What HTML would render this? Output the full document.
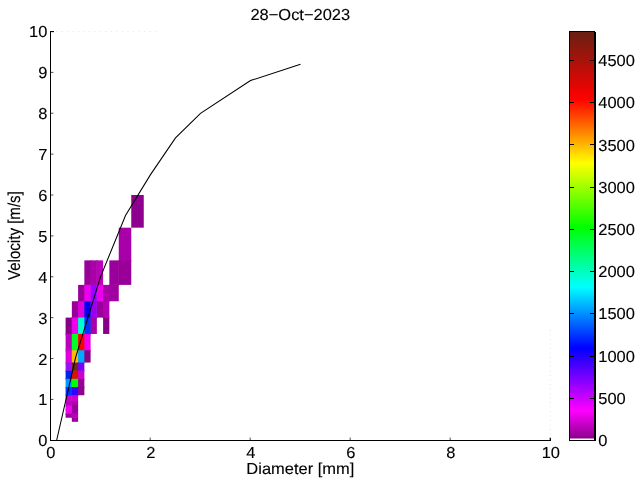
<!DOCTYPE html>
<html><head><meta charset="utf-8"><title>28-Oct-2023</title>
<style>html,body{margin:0;padding:0;background:#fff}svg{display:block}text{text-rendering:geometricPrecision;font-family:"Liberation Sans",sans-serif;font-size:15.9px;fill:#000;stroke:#000;stroke-width:0.12px}</style></head><body>
<svg width="640" height="480" viewBox="0 0 640 480">
<defs><linearGradient id="cm" gradientUnits="userSpaceOnUse" x1="0" y1="438.5" x2="0" y2="31.5">
<stop offset="0.0000" stop-color="#8b008b"/>
<stop offset="0.0688" stop-color="#ff00ff"/>
<stop offset="0.2224" stop-color="#0000ff"/>
<stop offset="0.3722" stop-color="#00ffff"/>
<stop offset="0.5197" stop-color="#00ff00"/>
<stop offset="0.6769" stop-color="#ffff00"/>
<stop offset="0.8342" stop-color="#ff0000"/>
<stop offset="1.0000" stop-color="#672012"/>
</linearGradient></defs>
<rect width="640" height="480" fill="#fff"/>
<g><rect x="131.25" y="194.98" width="12.50" height="32.70" fill="#8e008e"/><rect x="118.75" y="227.68" width="12.50" height="32.70" fill="#a800a8"/><rect x="118.75" y="259.87" width="12.50" height="1.5" fill="#a800a8"/><rect x="84.35" y="260.37" width="6.25" height="24.52" fill="#990099"/><rect x="90.10" y="260.37" width="1.5" height="24.52" fill="#990099"/><rect x="84.35" y="284.39" width="6.25" height="1.5" fill="#990099"/><rect x="90.60" y="260.37" width="6.25" height="24.52" fill="#aa00aa"/><rect x="96.35" y="260.37" width="1.5" height="24.52" fill="#aa00aa"/><rect x="90.60" y="284.39" width="6.25" height="1.5" fill="#aa00aa"/><rect x="96.85" y="260.37" width="6.25" height="24.52" fill="#bb00bb"/><rect x="96.85" y="284.39" width="6.25" height="1.5" fill="#bb00bb"/><rect x="109.35" y="260.37" width="9.40" height="24.52" fill="#990099"/><rect x="118.25" y="260.37" width="1.5" height="24.52" fill="#990099"/><rect x="109.35" y="284.39" width="9.40" height="1.5" fill="#990099"/><rect x="118.75" y="260.37" width="12.50" height="24.52" fill="#990099"/><rect x="78.10" y="284.89" width="6.25" height="16.35" fill="#990099"/><rect x="83.85" y="284.89" width="1.5" height="16.35" fill="#990099"/><rect x="78.10" y="300.74" width="6.25" height="1.5" fill="#990099"/><rect x="84.35" y="284.89" width="6.25" height="16.35" fill="#ee00ee"/><rect x="90.10" y="284.89" width="1.5" height="16.35" fill="#ee00ee"/><rect x="84.35" y="300.74" width="6.25" height="1.5" fill="#ee00ee"/><rect x="90.60" y="284.89" width="6.25" height="16.35" fill="#9900ff"/><rect x="96.35" y="284.89" width="1.5" height="16.35" fill="#9900ff"/><rect x="90.60" y="300.74" width="6.25" height="1.5" fill="#9900ff"/><rect x="96.85" y="284.89" width="6.25" height="16.35" fill="#ee00ee"/><rect x="102.60" y="284.89" width="1.5" height="16.35" fill="#ee00ee"/><rect x="96.85" y="300.74" width="6.25" height="1.5" fill="#ee00ee"/><rect x="103.10" y="284.89" width="6.25" height="16.35" fill="#aa00aa"/><rect x="108.85" y="284.89" width="1.5" height="16.35" fill="#aa00aa"/><rect x="103.10" y="300.74" width="6.25" height="1.5" fill="#aa00aa"/><rect x="109.35" y="284.89" width="9.40" height="16.35" fill="#a000a0"/><rect x="71.85" y="301.24" width="6.25" height="16.35" fill="#990099"/><rect x="77.60" y="301.24" width="1.5" height="16.35" fill="#990099"/><rect x="71.85" y="317.09" width="6.25" height="1.5" fill="#990099"/><rect x="78.10" y="301.24" width="6.25" height="16.35" fill="#dd00dd"/><rect x="83.85" y="301.24" width="1.5" height="16.35" fill="#dd00dd"/><rect x="78.10" y="317.09" width="6.25" height="1.5" fill="#dd00dd"/><rect x="84.35" y="301.24" width="6.25" height="16.35" fill="#0000ee"/><rect x="90.10" y="301.24" width="1.5" height="16.35" fill="#0000ee"/><rect x="84.35" y="317.09" width="6.25" height="1.5" fill="#0000ee"/><rect x="90.60" y="301.24" width="6.25" height="16.35" fill="#9900ee"/><rect x="96.35" y="301.24" width="1.5" height="16.35" fill="#9900ee"/><rect x="90.60" y="317.09" width="6.25" height="1.5" fill="#9900ee"/><rect x="96.85" y="301.24" width="6.25" height="16.35" fill="#9c009c"/><rect x="102.60" y="301.24" width="1.5" height="16.35" fill="#9c009c"/><rect x="103.10" y="301.24" width="6.25" height="16.35" fill="#b400b4"/><rect x="103.10" y="317.09" width="6.25" height="1.5" fill="#b400b4"/><rect x="65.60" y="317.59" width="6.25" height="16.35" fill="#880088"/><rect x="71.35" y="317.59" width="1.5" height="16.35" fill="#880088"/><rect x="65.60" y="333.44" width="6.25" height="1.5" fill="#880088"/><rect x="71.85" y="317.59" width="6.25" height="16.35" fill="#ee00ee"/><rect x="77.60" y="317.59" width="1.5" height="16.35" fill="#ee00ee"/><rect x="71.85" y="333.44" width="6.25" height="1.5" fill="#ee00ee"/><rect x="78.10" y="317.59" width="6.25" height="16.35" fill="#00ffcc"/><rect x="83.85" y="317.59" width="1.5" height="16.35" fill="#00ffcc"/><rect x="78.10" y="333.44" width="6.25" height="1.5" fill="#00ffcc"/><rect x="84.35" y="317.59" width="6.25" height="16.35" fill="#0033ff"/><rect x="90.10" y="317.59" width="1.5" height="16.35" fill="#0033ff"/><rect x="84.35" y="333.44" width="6.25" height="1.5" fill="#0033ff"/><rect x="90.60" y="317.59" width="6.25" height="16.35" fill="#aa00aa"/><rect x="103.10" y="317.59" width="6.25" height="16.35" fill="#880088"/><rect x="65.60" y="333.94" width="6.25" height="16.35" fill="#bb00bb"/><rect x="71.35" y="333.94" width="1.5" height="16.35" fill="#bb00bb"/><rect x="65.60" y="349.79" width="6.25" height="1.5" fill="#bb00bb"/><rect x="71.85" y="333.94" width="6.25" height="16.35" fill="#00ff22"/><rect x="77.60" y="333.94" width="1.5" height="16.35" fill="#00ff22"/><rect x="71.85" y="349.79" width="6.25" height="1.5" fill="#00ff22"/><rect x="78.10" y="333.94" width="6.25" height="16.35" fill="#ff0000"/><rect x="83.85" y="333.94" width="1.5" height="16.35" fill="#ff0000"/><rect x="78.10" y="349.79" width="6.25" height="1.5" fill="#ff0000"/><rect x="84.35" y="333.94" width="6.25" height="16.35" fill="#ee00ee"/><rect x="84.35" y="349.79" width="6.25" height="1.5" fill="#ee00ee"/><rect x="65.60" y="350.29" width="6.25" height="12.26" fill="#dd00dd"/><rect x="71.35" y="350.29" width="1.5" height="12.26" fill="#dd00dd"/><rect x="65.60" y="362.05" width="6.25" height="1.5" fill="#dd00dd"/><rect x="71.85" y="350.29" width="6.25" height="12.26" fill="#ffbb00"/><rect x="77.60" y="350.29" width="1.5" height="12.26" fill="#ffbb00"/><rect x="71.85" y="362.05" width="6.25" height="1.5" fill="#ffbb00"/><rect x="78.10" y="350.29" width="6.25" height="12.26" fill="#00aaff"/><rect x="83.85" y="350.29" width="1.5" height="12.26" fill="#00aaff"/><rect x="78.10" y="362.05" width="6.25" height="1.5" fill="#00aaff"/><rect x="84.35" y="350.29" width="6.25" height="12.26" fill="#880088"/><rect x="65.60" y="362.55" width="6.25" height="8.17" fill="#9911ee"/><rect x="71.35" y="362.55" width="1.5" height="8.17" fill="#9911ee"/><rect x="65.60" y="370.22" width="6.25" height="1.5" fill="#9911ee"/><rect x="71.85" y="362.55" width="6.25" height="8.17" fill="#6b2a1c"/><rect x="77.60" y="362.55" width="1.5" height="8.17" fill="#6b2a1c"/><rect x="71.85" y="370.22" width="6.25" height="1.5" fill="#6b2a1c"/><rect x="78.10" y="362.55" width="6.25" height="8.17" fill="#7700ff"/><rect x="78.10" y="370.22" width="6.25" height="1.5" fill="#7700ff"/><rect x="65.60" y="370.72" width="6.25" height="8.17" fill="#0022ee"/><rect x="71.35" y="370.72" width="1.5" height="8.17" fill="#0022ee"/><rect x="65.60" y="378.39" width="6.25" height="1.5" fill="#0022ee"/><rect x="71.85" y="370.72" width="6.25" height="8.17" fill="#dd1100"/><rect x="77.60" y="370.72" width="1.5" height="8.17" fill="#dd1100"/><rect x="71.85" y="378.39" width="6.25" height="1.5" fill="#dd1100"/><rect x="78.10" y="370.72" width="6.25" height="8.17" fill="#cc00cc"/><rect x="78.10" y="378.39" width="6.25" height="1.5" fill="#cc00cc"/><rect x="65.60" y="378.89" width="6.25" height="8.17" fill="#0099ff"/><rect x="71.35" y="378.89" width="1.5" height="8.17" fill="#0099ff"/><rect x="65.60" y="386.57" width="6.25" height="1.5" fill="#0099ff"/><rect x="71.85" y="378.89" width="6.25" height="8.17" fill="#00ff00"/><rect x="77.60" y="378.89" width="1.5" height="8.17" fill="#00ff00"/><rect x="71.85" y="386.57" width="6.25" height="1.5" fill="#00ff00"/><rect x="78.10" y="378.89" width="6.25" height="8.17" fill="#990099"/><rect x="78.10" y="386.57" width="6.25" height="1.5" fill="#990099"/><rect x="65.60" y="387.07" width="6.25" height="8.17" fill="#0033ff"/><rect x="71.35" y="387.07" width="1.5" height="8.17" fill="#0033ff"/><rect x="65.60" y="394.74" width="6.25" height="1.5" fill="#0033ff"/><rect x="71.85" y="387.07" width="6.25" height="8.17" fill="#3300ff"/><rect x="77.60" y="387.07" width="1.5" height="8.17" fill="#3300ff"/><rect x="71.85" y="394.74" width="6.25" height="1.5" fill="#3300ff"/><rect x="78.10" y="387.07" width="6.25" height="8.17" fill="#8e008e"/><rect x="65.60" y="395.24" width="6.25" height="6.13" fill="#cc00cc"/><rect x="71.35" y="395.24" width="1.5" height="6.13" fill="#cc00cc"/><rect x="65.60" y="400.87" width="6.25" height="1.5" fill="#cc00cc"/><rect x="71.85" y="395.24" width="6.25" height="6.13" fill="#cc00cc"/><rect x="71.85" y="400.87" width="6.25" height="1.5" fill="#cc00cc"/><rect x="65.60" y="401.37" width="6.25" height="4.09" fill="#bb00bb"/><rect x="71.35" y="401.37" width="1.5" height="4.09" fill="#bb00bb"/><rect x="65.60" y="404.96" width="6.25" height="1.5" fill="#bb00bb"/><rect x="71.85" y="401.37" width="6.25" height="4.09" fill="#aa00aa"/><rect x="71.85" y="404.96" width="6.25" height="1.5" fill="#aa00aa"/><rect x="65.60" y="405.46" width="6.25" height="4.09" fill="#f000f0"/><rect x="71.35" y="405.46" width="1.5" height="4.09" fill="#f000f0"/><rect x="65.60" y="409.05" width="6.25" height="1.5" fill="#f000f0"/><rect x="71.85" y="405.46" width="6.25" height="4.09" fill="#990099"/><rect x="71.85" y="409.05" width="6.25" height="1.5" fill="#990099"/><rect x="65.60" y="409.55" width="6.25" height="4.09" fill="#ee00ee"/><rect x="71.35" y="409.55" width="1.5" height="4.09" fill="#ee00ee"/><rect x="65.60" y="413.13" width="6.25" height="1.5" fill="#ee00ee"/><rect x="71.85" y="409.55" width="6.25" height="4.09" fill="#990099"/><rect x="71.85" y="413.13" width="6.25" height="1.5" fill="#990099"/><rect x="65.60" y="413.63" width="6.25" height="4.09" fill="#990099"/><rect x="71.35" y="413.63" width="1.5" height="4.09" fill="#990099"/><rect x="71.85" y="413.63" width="6.25" height="4.09" fill="#bb00bb"/><rect x="71.85" y="417.22" width="6.25" height="1.5" fill="#bb00bb"/><rect x="71.85" y="417.72" width="6.25" height="4.09" fill="#990099"/></g>
<polyline points="56.60,440.50 75.50,357.88 100.50,276.90 125.50,215.55 150.50,174.65 175.50,137.84 200.50,113.30 250.50,80.58 300.50,64.22" fill="none" stroke="#000" stroke-width="1.05"/>
<g stroke="#000" stroke-width="1" shape-rendering="crispEdges">
<line x1="50.5" y1="31" x2="50.5" y2="441"/>
<line x1="50" y1="440.5" x2="551" y2="440.5"/>
</g><g stroke="#000" stroke-width="0.7">
<line x1="51" y1="399.42" x2="53.4" y2="399.42"/>
<line x1="51" y1="358.54" x2="53.4" y2="358.54"/>
<line x1="51" y1="317.66" x2="53.4" y2="317.66"/>
<line x1="51" y1="276.78" x2="53.4" y2="276.78"/>
<line x1="51" y1="235.90" x2="53.4" y2="235.90"/>
<line x1="51" y1="195.02" x2="53.4" y2="195.02"/>
<line x1="51" y1="154.14" x2="53.4" y2="154.14"/>
<line x1="51" y1="113.26" x2="53.4" y2="113.26"/>
<line x1="51" y1="72.38" x2="53.4" y2="72.38"/>
<line x1="51" y1="31.6" x2="54" y2="31.6" stroke-width="1.1"/>
<line x1="550.3" y1="437.8" x2="550.3" y2="441" stroke-width="1.3"/>
<line x1="56" y1="31.6" x2="160" y2="31.6" stroke="#dcdcdc" stroke-width="0.8" stroke-dasharray="1 4.5"/>
<line x1="550.3" y1="330" x2="550.3" y2="436" stroke="#dcdcdc" stroke-width="0.8" stroke-dasharray="1 3.5"/>
<line x1="150.2" y1="437.6" x2="150.2" y2="440"/>
<line x1="250.2" y1="437.6" x2="250.2" y2="440"/>
<line x1="350.2" y1="437.6" x2="350.2" y2="440"/>
<line x1="450.2" y1="437.6" x2="450.2" y2="440"/>
</g>
<text transform="translate(47.3,446.3) scale(1.036,1)" text-anchor="end">0</text>
<text transform="translate(47.3,405.4) scale(1.036,1)" text-anchor="end">1</text>
<text transform="translate(47.3,364.5) scale(1.036,1)" text-anchor="end">2</text>
<text transform="translate(47.3,323.6) scale(1.036,1)" text-anchor="end">3</text>
<text transform="translate(47.3,282.7) scale(1.036,1)" text-anchor="end">4</text>
<text transform="translate(47.3,241.8) scale(1.036,1)" text-anchor="end">5</text>
<text transform="translate(47.3,200.9) scale(1.036,1)" text-anchor="end">6</text>
<text transform="translate(47.3,160.0) scale(1.036,1)" text-anchor="end">7</text>
<text transform="translate(47.3,119.1) scale(1.036,1)" text-anchor="end">8</text>
<text transform="translate(47.3,78.2) scale(1.036,1)" text-anchor="end">9</text>
<text transform="translate(47.3,37.3) scale(1.036,1)" text-anchor="end">10</text>
<text transform="translate(50.8,458.3) scale(1.036,1)" text-anchor="middle">0</text>
<text transform="translate(150.8,458.3) scale(1.036,1)" text-anchor="middle">2</text>
<text transform="translate(250.8,458.3) scale(1.036,1)" text-anchor="middle">4</text>
<text transform="translate(350.8,458.3) scale(1.036,1)" text-anchor="middle">6</text>
<text transform="translate(450.8,458.3) scale(1.036,1)" text-anchor="middle">8</text>
<text transform="translate(550.8,458.3) scale(1.036,1)" text-anchor="middle">10</text>
<text transform="translate(300.3,474) scale(1.036,1)" text-anchor="middle">Diameter [mm]</text>
<text transform="translate(300.3,20) scale(1.036,1)" text-anchor="middle">28−Oct−2023</text>
<text transform="translate(19.6,235.6) scale(1.14,1) rotate(-90)" text-anchor="middle" style="font-size:15.1px">Velocity [m/s]</text>
<rect x="569.5" y="31.5" width="25" height="409" fill="url(#cm)"/>
<rect x="570" y="438.5" width="24" height="1.5" fill="#fff"/>
<g stroke="#000" stroke-width="1" shape-rendering="crispEdges" fill="none">
<rect x="569.5" y="31.5" width="25" height="409"/>
<line x1="595.5" y1="32" x2="595.5" y2="441"/>
<line x1="570" y1="398.5" x2="574" y2="398.5"/><line x1="590" y1="398.5" x2="594" y2="398.5"/>
<line x1="570" y1="356.5" x2="574" y2="356.5"/><line x1="590" y1="356.5" x2="594" y2="356.5"/>
<line x1="570" y1="313.5" x2="574" y2="313.5"/><line x1="590" y1="313.5" x2="594" y2="313.5"/>
<line x1="570" y1="271.5" x2="574" y2="271.5"/><line x1="590" y1="271.5" x2="594" y2="271.5"/>
<line x1="570" y1="229.5" x2="574" y2="229.5"/><line x1="590" y1="229.5" x2="594" y2="229.5"/>
<line x1="570" y1="187.5" x2="574" y2="187.5"/><line x1="590" y1="187.5" x2="594" y2="187.5"/>
<line x1="570" y1="144.5" x2="574" y2="144.5"/><line x1="590" y1="144.5" x2="594" y2="144.5"/>
<line x1="570" y1="102.5" x2="574" y2="102.5"/><line x1="590" y1="102.5" x2="594" y2="102.5"/>
<line x1="570" y1="60.5" x2="574" y2="60.5"/><line x1="590" y1="60.5" x2="594" y2="60.5"/>
</g>
<text transform="translate(598.3,446.1) scale(1.036,1)" text-anchor="start">0</text>
<text transform="translate(598.3,403.9) scale(1.036,1)" text-anchor="start">500</text>
<text transform="translate(598.3,361.7) scale(1.036,1)" text-anchor="start">1000</text>
<text transform="translate(598.3,319.4) scale(1.036,1)" text-anchor="start">1500</text>
<text transform="translate(598.3,277.2) scale(1.036,1)" text-anchor="start">2000</text>
<text transform="translate(598.3,235.0) scale(1.036,1)" text-anchor="start">2500</text>
<text transform="translate(598.3,192.8) scale(1.036,1)" text-anchor="start">3000</text>
<text transform="translate(598.3,150.6) scale(1.036,1)" text-anchor="start">3500</text>
<text transform="translate(598.3,108.3) scale(1.036,1)" text-anchor="start">4000</text>
<text transform="translate(598.3,66.1) scale(1.036,1)" text-anchor="start">4500</text>
</svg></body></html>
